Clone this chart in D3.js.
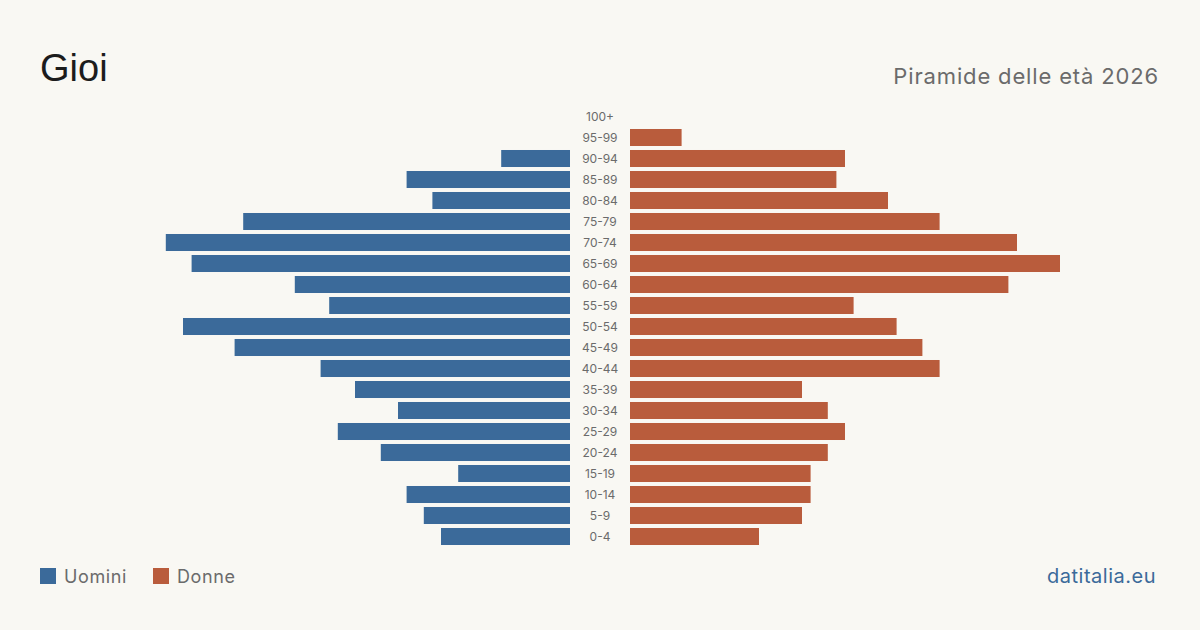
<!DOCTYPE html>
<html>
<head>
<meta charset="utf-8">
<script src="https://d3js.org/d3.v7.min.js"></script>
<style>
  body { margin: 0; background: #f9f8f3; }
  svg { display: block; font-family: Inter, "Liberation Sans", sans-serif; }
</style>
</head>
<body>
<div id="chart"></div>
<script>
// age classes, from the oldest (top) to the youngest (bottom)
var ages = ["100+", "95-99", "90-94", "85-89", "80-84", "75-79", "70-74", "65-69", "60-64",
  "55-59", "50-54", "45-49", "40-44", "35-39", "30-34", "25-29", "20-24", "15-19",
  "10-14", "5-9", "0-4"];
var uomini = [0, 0, 8, 19, 16, 38, 47, 44, 32, 28, 45, 39, 29, 25, 20, 27, 22, 13, 19, 17, 15];
var donne = [0, 6, 25, 24, 30, 36, 45, 50, 44, 26, 31, 34, 36, 20, 23, 25, 23, 21, 21, 20, 15];

var W = 1200, H = 630;
var blue = "#3b6a9a", red = "#b95c3c";

var svg = d3.select("#chart").append("svg")
  .attr("width", W).attr("height", H);

svg.append("rect").attr("width", W).attr("height", H).attr("fill", "#f9f8f3");

// title & subtitle
svg.append("text").attr("x", 40).attr("y", 81)
  .attr("font-family", "'Liberation Sans', Arial, sans-serif")
  .attr("font-size", 38).attr("fill", "#1c1c1c").text("Gioi");
svg.append("text").attr("x", 1159).attr("y", 84).attr("text-anchor", "end")
  .attr("font-size", 22).attr("letter-spacing", 0.85).attr("fill", "#6b6b6b").text("Piramide delle età 2026");

var max = d3.max(uomini.concat(donne));

var y = d3.scaleBand().domain(ages).range([106, 547]).paddingInner(0.19).paddingOuter(0.095);
var xl = d3.scaleLinear().domain([0, max]).range([570, 140]);
var xr = d3.scaleLinear().domain([0, max]).range([630, 1060]);

svg.append("g").selectAll("rect").data(ages).join("rect")
  .attr("x", function(d, i) { return xl(uomini[i]); })
  .attr("y", function(d) { return y(d); })
  .attr("width", function(d, i) { return xl(0) - xl(uomini[i]); })
  .attr("height", y.bandwidth())
  .attr("fill", blue);

svg.append("g").selectAll("rect").data(ages).join("rect")
  .attr("x", xr(0))
  .attr("y", function(d) { return y(d); })
  .attr("width", function(d, i) { return xr(donne[i]) - xr(0); })
  .attr("height", y.bandwidth())
  .attr("fill", red);

// age labels in the middle
svg.append("g").selectAll("text").data(ages).join("text")
  .attr("x", 600)
  .attr("y", function(d) { return y(d) + y.bandwidth() / 2; })
  .attr("dy", "0.35em")
  .attr("text-anchor", "middle")
  .attr("font-size", 12).attr("fill", "#6b6b6b")
  .text(function(d) { return d; });

// legend
var legend = [["Uomini", blue, 40], ["Donne", red, 153]];
legend.forEach(function(l) {
  svg.append("rect").attr("x", l[2]).attr("y", 568).attr("width", 16).attr("height", 16).attr("fill", l[1]);
  svg.append("text").attr("x", l[2] + 24).attr("y", 583)
    .attr("font-size", 18).attr("letter-spacing", 0.6).attr("fill", "#6b6b6b").text(l[0]);
});

svg.append("text").attr("x", 1156).attr("y", 583).attr("text-anchor", "end")
  .attr("font-size", 20).attr("letter-spacing", 0.5).attr("fill", blue).text("datitalia.eu");
</script>
</body>
</html>
